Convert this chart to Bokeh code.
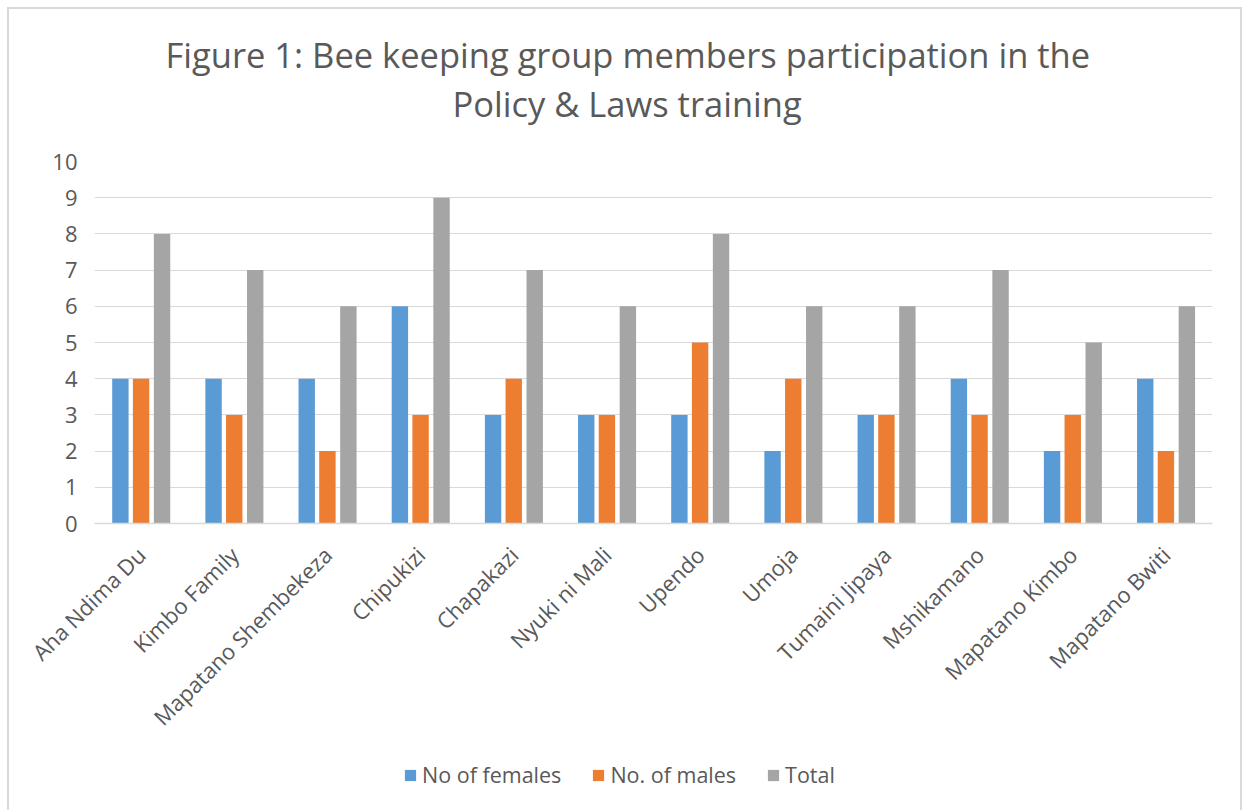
from math import pi
from bokeh.plotting import figure
from bokeh.layouts import column
from bokeh.models import (ColumnDataSource, FactorRange, Range1d, FixedTicker,
                          Legend, LegendItem, Title)
from bokeh.transform import dodge
from bokeh.embed import file_html
from bokeh.resources import INLINE

groups = ["Aha Ndima Du", "Kimbo Family", "Mapatano Shembekeza", "Chipukizi",
          "Chapakazi", "Nyuki ni Mali", "Upendo", "Umoja", "Tumaini Jipaya",
          "Mshikamano", "Mapatano Kimbo", "Mapatano Bwiti"]
females = [4, 4, 4, 6, 3, 3, 3, 2, 3, 4, 2, 4]
males = [4, 3, 2, 3, 4, 3, 5, 4, 3, 3, 3, 2]
total = [8, 7, 6, 9, 7, 6, 8, 6, 6, 7, 5, 6]
y_ticks = [0, 1, 2, 3, 4, 5, 6, 7, 8, 9, 10]
series_names = ["No of females", "No. of males", "Total"]
title_lines = ["Figure 1: Bee keeping group members participation in the",
               "Policy & Laws training"]

colors = ["#5B9BD5", "#ED7D31", "#A5A5A5"]
text_color = "#595959"
grid_color = "#D9D9D9"
FONT = "Open Sans"

source = ColumnDataSource(data=dict(group=groups, females=females, males=males, total=total))

p = figure(width=1231, height=734, frame_width=1118, frame_height=362,
           output_backend="svg", toolbar_location=None,
           x_range=FactorRange(*groups, range_padding=0), y_range=Range1d(0, 10),
           min_border_left=85, min_border_right=28, min_border_top=152,
           min_border_bottom=220)
p.outline_line_color = None
p.background_fill_color = "white"
p.border_fill_color = "white"

cols = ["females", "males", "total"]
offsets = [-0.222, 0.0, 0.225]
for c, off, col in zip(cols, offsets, colors):
    p.vbar(x=dodge("group", off, range=p.x_range), top=c, width=0.176,
           source=source, fill_color=col, line_color=None)

# axes
p.yaxis.ticker = FixedTicker(ticks=y_ticks)
p.yaxis.axis_line_color = None
p.yaxis.major_tick_line_color = None
p.yaxis.minor_tick_line_color = None
p.yaxis.major_label_standoff = 11
p.yaxis.major_label_text_font = FONT
p.yaxis.major_label_text_font_size = "22px"
p.yaxis.major_label_text_color = text_color

p.xaxis.axis_line_color = grid_color
p.xaxis.axis_line_width = 1.5
p.xaxis.major_tick_line_color = None
p.xaxis.minor_tick_line_color = None
p.xaxis.major_label_orientation = pi / 4
p.xaxis.major_label_standoff = 21
p.xaxis.major_label_text_font = FONT
p.xaxis.major_label_text_font_size = "22px"
p.xaxis.major_label_text_color = text_color

p.xgrid.grid_line_color = None
p.ygrid.grid_line_color = grid_color
p.ygrid.grid_line_width = 1.2

# title: two lines, each placed by its left offset from the frame
for txt, off, sto in zip(title_lines[::-1], [358, 71], [70, -70]):
    p.add_layout(Title(text=txt, align="left", offset=off, standoff=sto,
                       text_font=FONT, text_font_size="34.5px", text_font_style="normal",
                       text_color=text_color), "above")

# legend strip below the chart (swatch renderers hold no drawable data)
lg = figure(width=1231, height=66, output_backend="svg", toolbar_location=None,
            x_range=Range1d(0, 1), y_range=Range1d(0, 1),
            x_axis_type=None, y_axis_type=None, min_border=0)
lg.outline_line_color = None
lg.xgrid.grid_line_color = None
lg.ygrid.grid_line_color = None
nodata = ColumnDataSource(data=dict(x=[float("nan")], top=[float("nan")]))
swatches = [lg.vbar(x="x", top="top", width=1, source=nodata, fill_color=col, line_color=None)
            for col in colors]
legend = Legend(items=[LegendItem(label=n, renderers=[r]) for n, r in zip(series_names, swatches)],
                orientation="horizontal", location=(309, 21),
                glyph_width=14, glyph_height=14, label_standoff=5, spacing=30,
                padding=0, margin=0, border_line_color=None, background_fill_alpha=0,
                label_text_font=FONT, label_text_font_size="21.5px",
                label_text_color=text_color)
lg.add_layout(legend)

layout = column(p, lg, spacing=0)
layout.styles = {"box-sizing": "content-box", "margin-left": "7px", "margin-top": "7px",
                 "border-left": "2px solid #D9D9D9", "border-top": "2px solid #D9D9D9",
                 "border-right": "2px solid #D9D9D9"}

open("out.html", "w").write(file_html(layout, INLINE))
